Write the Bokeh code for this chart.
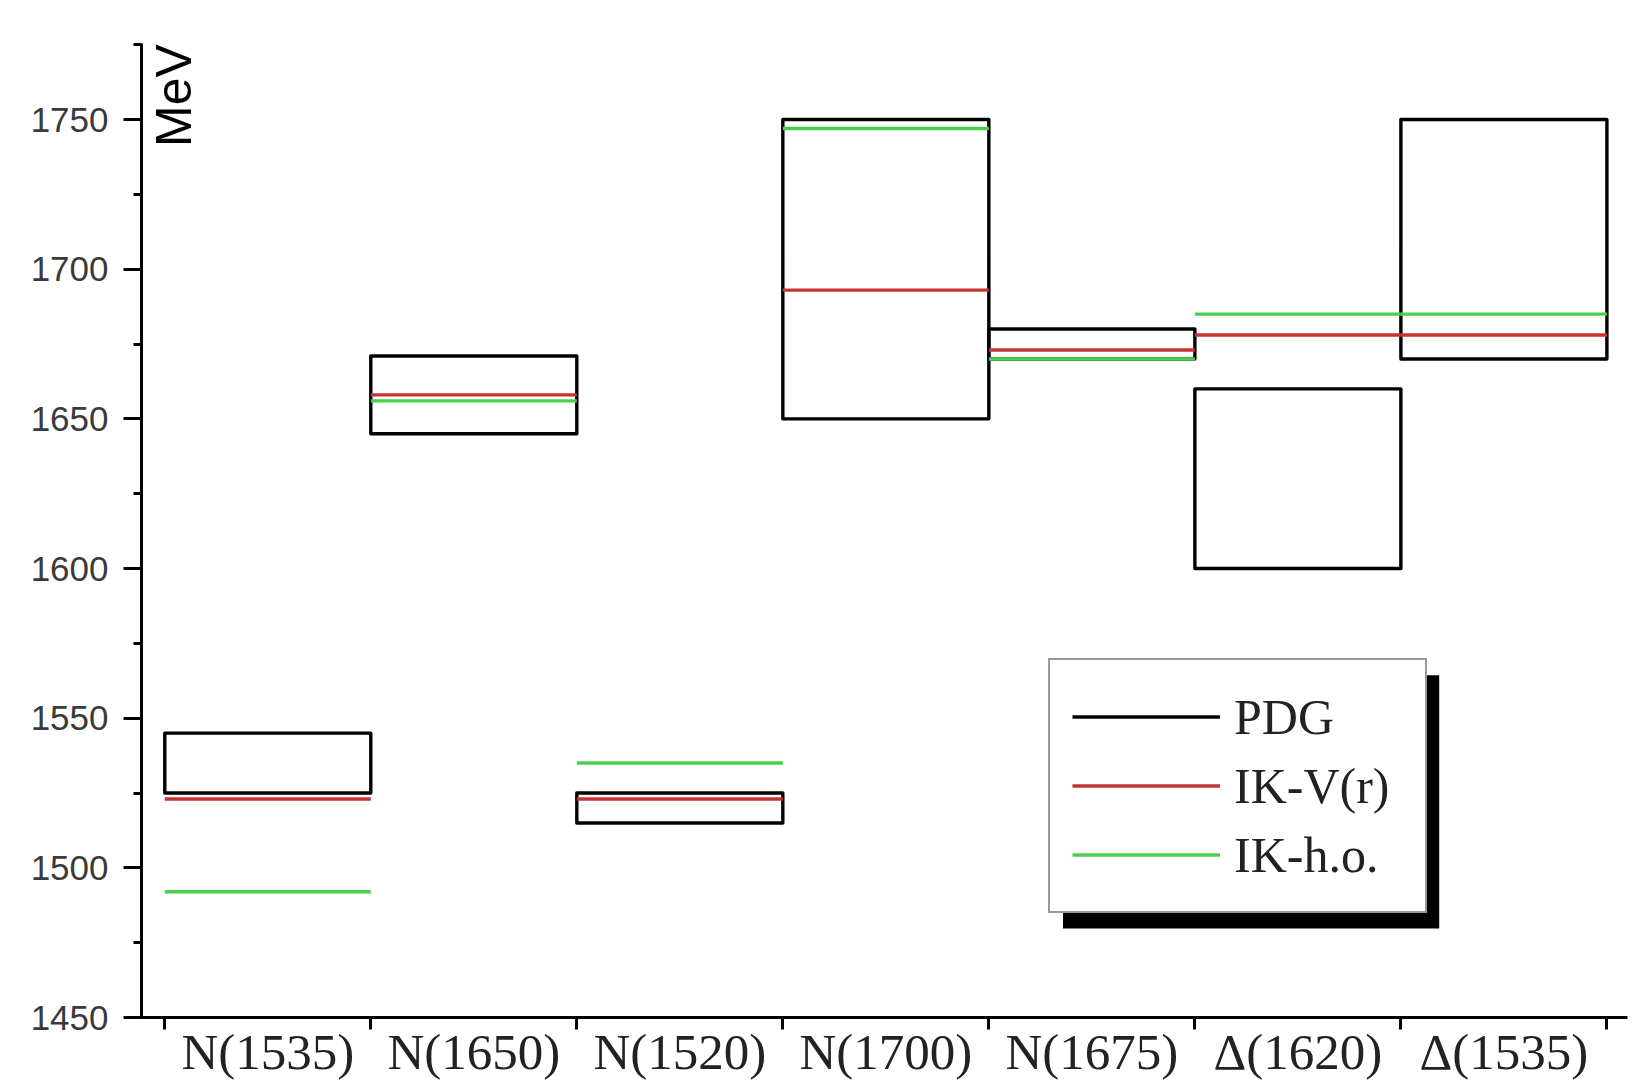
from bokeh.plotting import figure
from bokeh.models import (FixedTicker, SingleIntervalTicker, Legend, LegendItem,
                          BoxAnnotation, Range1d, ColumnDataSource)
from bokeh.core.properties import value
from bokeh.embed import file_html
from bokeh.resources import INLINE

# ---- data ----
states = ["N(1535)", "N(1650)", "N(1520)", "N(1700)", "N(1675)", "\u0394(1620)", "\u0394(1535)"]
pdg_low = [1525, 1645, 1515, 1650, 1670, 1600, 1670]
pdg_high = [1545, 1671, 1525, 1750, 1680, 1660, 1750]
ik_vr = [1523, 1658, 1523, 1693, 1673, 1678, 1678]
ik_ho = [1492, 1656, 1535, 1747, 1670, 1685, 1685]

n = len(states)
left = list(range(n))
right = [i + 1 for i in range(n)]
centers = [i + 0.5 for i in range(n)]

W, H = 1635, 1082
p = figure(width=W, height=H, output_backend="svg", toolbar_location=None,
           x_range=Range1d(-0.113, 7.10), y_range=Range1d(1450, 1775.4),
           min_border_left=141, min_border_right=8, min_border_top=43,
           min_border_bottom=65)
p.outline_line_color = None
p.xgrid.visible = False
p.ygrid.visible = False
p.background_fill_color = "white"
p.border_fill_color = "white"

LW = 3.4
src_box = ColumnDataSource(dict(left=left, right=right, bottom=pdg_low, top=pdg_high))
r_pdg = p.quad(left="left", right="right", bottom="bottom", top="top", source=src_box,
               fill_color=None, line_color="black", line_width=LW, line_join="round")

src_vr = ColumnDataSource(dict(x0=left, x1=right, y=ik_vr))
r_vr = p.segment(x0="x0", x1="x1", y0="y", y1="y", source=src_vr,
                 line_color="#c83232", line_width=LW)
src_ho = ColumnDataSource(dict(x0=left, x1=right, y=ik_ho))
r_ho = p.segment(x0="x0", x1="x1", y0="y", y1="y", source=src_ho,
                 line_color="#4ccf4c", line_width=LW)

# line renderer (no visible data) used only for the PDG legend swatch
nan = float("nan")
r_pdg_key = p.line(x=[nan, nan], y=[nan, nan], line_color="black", line_width=LW)

# ---- axes ----
xa = p.xaxis[0]
xa.ticker = FixedTicker(ticks=centers, minor_ticks=list(range(n + 1)))
xa.major_label_overrides = {c: s for c, s in zip(centers, states)}
xa.major_tick_line_color = None
xa.major_tick_out = 0
xa.major_tick_in = 0
xa.minor_tick_out = 12
xa.minor_tick_in = 0
xa.minor_tick_line_width = 3
xa.minor_tick_line_color = "black"
xa.axis_line_width = 3
xa.axis_line_color = "black"
xa.major_label_text_font = "Liberation Serif"
xa.major_label_text_font_size = "51px"
xa.major_label_text_color = "#222222"
xa.major_label_standoff = -6

ya = p.yaxis[0]
ya.ticker = SingleIntervalTicker(interval=50, num_minor_ticks=2)
ya.major_tick_out = 18
ya.major_tick_in = 0
ya.minor_tick_out = 8
ya.minor_tick_in = 0
ya.major_tick_line_width = 3
ya.minor_tick_line_width = 3
ya.major_tick_line_color = "black"
ya.minor_tick_line_color = "black"
ya.axis_line_width = 3
ya.axis_line_color = "black"
ya.major_label_text_font = "Liberation Sans"
ya.major_label_text_font_size = "35px"
ya.major_label_text_color = "#3a3a3a"
ya.major_label_standoff = 15

# unit label inside the plot, rotated
p.text(x=[-0.093], y=[1758], text=["MeV"], angle=1.5708,
       text_font=value("Liberation Sans"), text_font_size="50px",
       text_color="black", text_align="center", text_baseline="top")

# ---- legend with shadow ----
shadow = BoxAnnotation(left=4.36, right=6.186, top=1564.3, bottom=1479.7,
                       fill_color="black", fill_alpha=1.0, line_color=None, level="overlay")
p.add_layout(shadow)

legend = Legend(items=[LegendItem(label="PDG", renderers=[r_pdg_key]),
                       LegendItem(label="IK-V(r)", renderers=[r_vr]),
                       LegendItem(label="IK-h.o.", renderers=[r_ho])],
                location=(907, 104), orientation="vertical",
                padding=22, margin=0, spacing=0,
                glyph_width=148, glyph_height=69, label_height=69,
                label_width=169, label_standoff=14,
                label_text_font="Liberation Serif", label_text_font_size="50px",
                label_text_color="#222222",
                border_line_color="#333333", border_line_width=2,
                background_fill_color="white", background_fill_alpha=1.0,
                level="overlay")
p.add_layout(legend)

open("out.html", "w").write(file_html(p, INLINE))
